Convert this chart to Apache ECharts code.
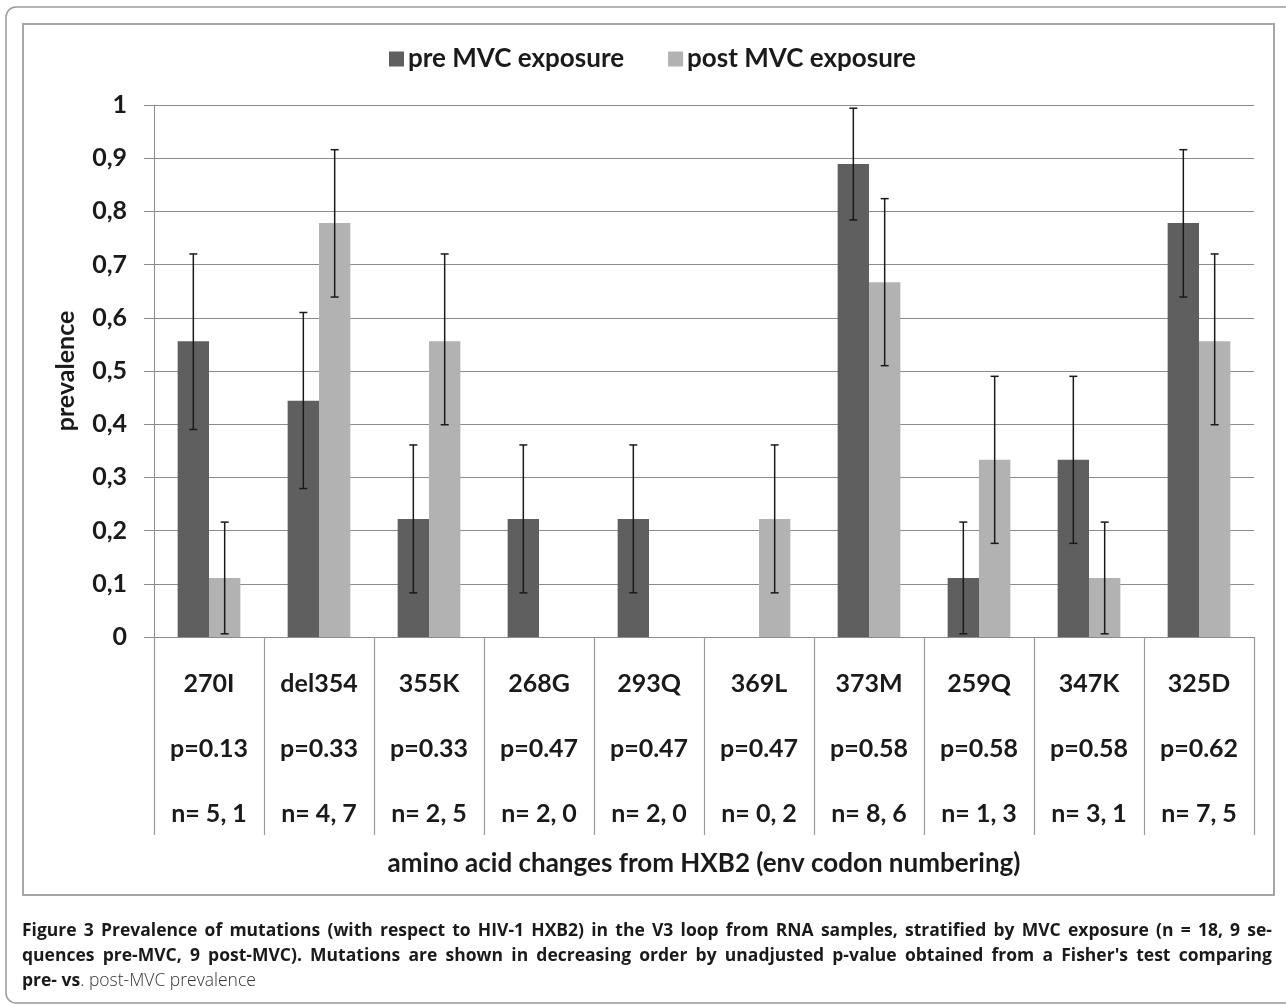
<!DOCTYPE html>
<html>
<head>
<meta charset="utf-8">
<title>Prevalence of V3 loop mutations</title>
<script src="https://cdn.jsdelivr.net/npm/echarts@6/dist/echarts.min.js"></script>
<style>
  html, body { margin: 0; padding: 0; background: #ffffff; }
  #chart { width: 1286px; height: 1005px; }
</style>
</head>
<body>
<div id="chart"></div>
<script>
// Mutations, ordered by unadjusted Fisher p-value
const categories = ['270I', 'del354', '355K', '268G', '293Q', '369L', '373M', '259Q', '347K', '325D'];
const pLabels = ['p=0.13', 'p=0.33', 'p=0.33', 'p=0.47', 'p=0.47', 'p=0.47', 'p=0.58', 'p=0.58', 'p=0.58', 'p=0.62'];
const nLabels = ['n= 5, 1', 'n= 4, 7', 'n= 2, 5', 'n= 2, 0', 'n= 2, 0', 'n= 0, 2', 'n= 8, 6', 'n= 1, 3', 'n= 3, 1', 'n= 7, 5'];

// Prevalence before / after MVC exposure
const prePrevalence  = [0.556, 0.444, 0.222, 0.222, 0.222, 0, 0.889, 0.111, 0.333, 0.778];
const postPrevalence = [0.111, 0.778, 0.556, 0, 0, 0.222, 0.667, 0.333, 0.111, 0.556];

// Error bar extents (null = no bar drawn)
const preErrLow   = [0.39, 0.279, 0.083, 0.083, 0.083, null, 0.784, 0.006, 0.176, 0.639];
const preErrHigh  = [0.72, 0.61, 0.361, 0.361, 0.361, null, 0.994, 0.216, 0.49, 0.916];
const postErrLow  = [0.006, 0.639, 0.399, null, null, 0.083, 0.51, 0.176, 0.006, 0.399];
const postErrHigh = [0.216, 0.916, 0.72, null, null, 0.361, 0.824, 0.49, 0.216, 0.72];

const yTicks = [0, 0.1, 0.2, 0.3, 0.4, 0.5, 0.6, 0.7, 0.8, 0.9, 1];

const PRE_COLOR = '#5f5f5f';
const POST_COLOR = '#b2b2b2';
const TEXT = '#1a1a1a';
const AXIS_GRAY = '#8c8c8c';
const CAT_GAP = 0.43;
const LABEL_FONT = 'Lato, "Open Sans", "Noto Sans", sans-serif';
const LABEL_SIZE = 25;
const CAPTION_FONT = '"Open Sans", "Noto Sans", sans-serif';

function errorRows(lo, hi) {
  const rows = [];
  lo.forEach((v, i) => { if (v !== null && hi[i] !== null) rows.push([i, v, hi[i]]); });
  return rows;
}

function errorRenderer(side) {
  return function (params, api) {
    const i = api.value(0);
    const a = api.coord([i, api.value(1)]);
    const b = api.coord([i, api.value(2)]);
    const band = api.size([1, 0])[0];
    const barW = band * (1 - CAT_GAP) / 2;
    const x = a[0] + side * barW / 2;
    const cap = 4;
    const style = { stroke: '#1a1a1a', lineWidth: 1.5 };
    return {
      type: 'group',
      children: [
        { type: 'line', shape: { x1: x, y1: a[1], x2: x, y2: b[1] }, style },
        { type: 'line', shape: { x1: x - cap, y1: a[1], x2: x + cap, y2: a[1] }, style },
        { type: 'line', shape: { x1: x - cap, y1: b[1], x2: x + cap, y2: b[1] }, style }
      ]
    };
  };
}

// Figure caption: justified lines built word by word
const captionLines = [
  { justify: true, parts: [
    { t: 'Figure 3', w: 700 },
    { t: 'Prevalence of mutations (with respect to HIV-1 HXB2) in the V3 loop from RNA samples, stratified by MVC exposure (n = 18, 9 se-', w: 700 }
  ]},
  { justify: true, parts: [
    { t: 'quences pre-MVC, 9 post-MVC). Mutations are shown in decreasing order by unadjusted p-value obtained from a Fisher\'s test comparing', w: 700 }
  ]},
  { justify: false, parts: [
    { t: 'pre- vs', w: 700 },
    { t: '. post-MVC prevalence', w: 300 }
  ]}
];
const CAPTION_SIZE = 17.5;
const CAPTION_X0 = 22, CAPTION_X1 = 1272;
const CAPTION_Y = [931, 956, 981];

function buildCaption() {
  const ctx = document.createElement('canvas').getContext('2d');
  const els = [];
  captionLines.forEach((line, li) => {
    const y = CAPTION_Y[li];
    if (line.justify) {
      const words = [];
      line.parts.forEach(p => p.t.split(' ').forEach(t => words.push({ t, w: p.w })));
      let size = CAPTION_SIZE;
      let total;
      // shrink slightly if the words would not fit with a minimal gap
      for (;;) {
        total = 0;
        words.forEach(wd => {
          ctx.font = wd.w + ' ' + size + 'px ' + CAPTION_FONT;
          wd.width = ctx.measureText(wd.t).width;
          total += wd.width;
        });
        if (total + 3.5 * (words.length - 1) <= CAPTION_X1 - CAPTION_X0 || size < 12) break;
        size -= 0.25;
      }
      const gap = (CAPTION_X1 - CAPTION_X0 - total) / (words.length - 1);
      let x = CAPTION_X0;
      words.forEach(wd => {
        els.push({
          type: 'text', x, y,
          style: { text: wd.t, fill: TEXT, font: wd.w + ' ' + size + 'px ' + CAPTION_FONT, verticalAlign: 'middle' }
        });
        x += wd.width + gap;
      });
    } else {
      let x = CAPTION_X0;
      line.parts.forEach(p => {
        const font = p.w + ' ' + CAPTION_SIZE + 'px ' + CAPTION_FONT;
        ctx.font = font;
        els.push({
          type: 'text', x, y,
          style: { text: p.t, fill: p.w < 400 ? '#333333' : TEXT, font, verticalAlign: 'middle' }
        });
        x += ctx.measureText(p.t).width;
      });
    }
  });
  return els;
}

const chart = echarts.init(document.getElementById('chart'), null, { renderer: 'canvas' });

const option = {
  backgroundColor: '#ffffff',
  animation: false,
  textStyle: { fontFamily: LABEL_FONT, color: TEXT },
  legend: {
    data: ['pre MVC exposure', 'post MVC exposure'],
    left: 384,
    top: 41,
    itemWidth: 15,
    itemHeight: 15,
    itemGap: 44,
    icon: 'rect',
    textStyle: { fontFamily: LABEL_FONT, fontSize: 26, fontWeight: 'bold', color: TEXT, padding: [0, 0, 0, -1] }
  },
  grid: { left: 154, right: 32, top: 105, bottom: 368, containLabel: false },
  xAxis: {
    type: 'category',
    data: categories,
    boundaryGap: true,
    name: 'amino acid changes from HXB2 (env codon numbering)',
    nameLocation: 'middle',
    nameGap: 214,
    nameTextStyle: { fontFamily: LABEL_FONT, fontSize: 26, fontWeight: 'bold', color: TEXT },
    axisLine: { show: true, lineStyle: { color: AXIS_GRAY, width: 1 } },
    axisTick: { show: true, length: 198, lineStyle: { color: '#9a9a9a', width: 1.2 } },
    axisLabel: {
      interval: 0,
      margin: 14,
      fontFamily: LABEL_FONT,
      fontSize: LABEL_SIZE,
      fontWeight: 'bold',
      color: TEXT,
      lineHeight: 65,
      formatter: (v, i) => [v, pLabels[i], nLabels[i]].join('\n')
    },
    splitLine: { show: false }
  },
  yAxis: {
    type: 'value',
    min: yTicks[0],
    max: yTicks[yTicks.length - 1],
    interval: 0.1,
    name: 'prevalence',
    nameLocation: 'middle',
    nameGap: 76,
    nameRotate: 90,
    nameTextStyle: { fontFamily: LABEL_FONT, fontSize: LABEL_SIZE, fontWeight: 'bold', color: TEXT },
    axisLine: { show: true, lineStyle: { color: AXIS_GRAY, width: 1 } },
    axisTick: { show: true, length: 10, lineStyle: { color: AXIS_GRAY, width: 1 } },
    axisLabel: {
      margin: 27,
      fontFamily: LABEL_FONT,
      fontSize: LABEL_SIZE,
      fontWeight: 'bold',
      color: TEXT,
      formatter: v => String(Math.round(v * 10) / 10).replace('.', ',')
    },
    splitLine: { show: true, lineStyle: { color: AXIS_GRAY, width: 1 } }
  },
  series: [
    {
      name: 'pre MVC exposure',
      type: 'bar',
      data: prePrevalence,
      barGap: '0%',
      barCategoryGap: (CAT_GAP * 100) + '%',
      itemStyle: { color: PRE_COLOR }
    },
    {
      name: 'post MVC exposure',
      type: 'bar',
      data: postPrevalence,
      barGap: '0%',
      barCategoryGap: (CAT_GAP * 100) + '%',
      itemStyle: { color: POST_COLOR }
    },
    {
      name: 'pre error',
      type: 'custom',
      data: errorRows(preErrLow, preErrHigh),
      encode: { x: 0, y: [1, 2] },
      renderItem: errorRenderer(-1),
      z: 5
    },
    {
      name: 'post error',
      type: 'custom',
      data: errorRows(postErrLow, postErrHigh),
      encode: { x: 0, y: [1, 2] },
      renderItem: errorRenderer(1),
      z: 5
    }
  ],
  graphic: [
    {
      type: 'rect', z: -1, silent: true,
      shape: { x: 6, y: 7, width: 1300, height: 996, r: 10 },
      style: { fill: 'none', stroke: '#9a9a9a', lineWidth: 1.5 }
    },
    {
      type: 'rect', z: -1, silent: true,
      shape: { x: 23, y: 24, width: 1251, height: 871 },
      style: { fill: 'none', stroke: '#a6a6a6', lineWidth: 2 }
    }
  ].concat(buildCaption())
};

chart.setOption(option);
</script>
</body>
</html>
